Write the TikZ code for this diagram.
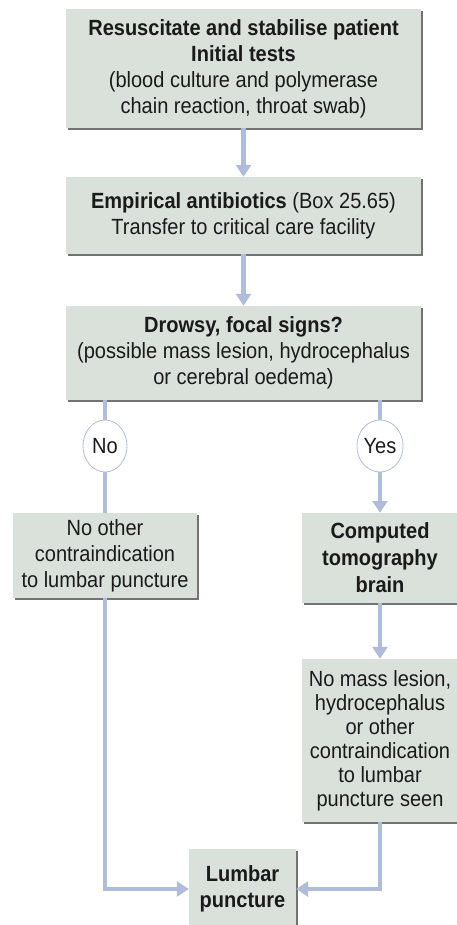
\documentclass[tikz,border=0pt]{standalone}
\usepackage{fontspec}
\setmainfont{Liberation Sans}[FakeStretch=0.91]
\usetikzlibrary{arrows.meta,shapes.geometric,shadows}
\definecolor{boxfill}{HTML}{D9E1DA}
\definecolor{flowline}{HTML}{AFBCDC}
\definecolor{inktext}{HTML}{1A1A1A}

\tikzset{
  stepbox/.style={rectangle, fill=boxfill, align=center, inner sep=0pt, text=inktext,
    drop shadow={shadow xshift=1.6pt, shadow yshift=-1.8pt, fill=black!55, opacity=1}},
  answer/.style={ellipse, draw=flowline, fill=white, line width=0.8pt,
    minimum width=44pt, minimum height=52pt, inner sep=0pt, text=inktext},
  flow/.style={draw=flowline, line width=4.5pt},
  flowarrow/.style={flow, -{Triangle[width=15pt,length=12pt]}}
}

\begin{document}
\begin{tikzpicture}[x=1pt, y=-1pt, every node/.style={font=\fontsize{22}{26}\selectfont}]
    \useasboundingbox (0,0) rectangle (457,925);
    % boxes
    \node[stepbox, minimum width=355pt, minimum height=119pt] (start) at (243.5,68.5)
        {\textbf{Resuscitate and stabilise patient}\\ \textbf{Initial tests}\\
         (blood culture and polymerase\\ chain reaction, throat swab)};
    \node[stepbox, minimum width=355pt, minimum height=77pt] (abx) at (243.5,215.5)
        {\textbf{Empirical antibiotics} (Box 25.65)\\ Transfer to critical care facility};
    \node[stepbox, minimum width=355pt, minimum height=94pt] (drowsy) at (243.5,353)
        {\textbf{Drowsy, focal signs?}\\ (possible mass lesion, hydrocephalus\\ or cerebral oedema)};
    \node[answer] (no) at (105,446) {No};
    \node[answer] (yes) at (380,446) {Yes};
    \node[stepbox, minimum width=184pt, minimum height=85pt] (noother) at (105,555.5)
        {No other\\ contraindication\\ to lumbar puncture};
    \node[stepbox, minimum width=156pt, minimum height=90pt, font=\fontsize{22}{27}\selectfont] (ct) at (380,558)
        {\textbf{Computed}\\ \textbf{tomography}\\ \textbf{brain}};
    \node[stepbox, minimum width=156pt, minimum height=163pt, font=\fontsize{22}{24}\selectfont] (nomass) at (380,740.5)
        {No mass lesion,\\ hydrocephalus\\ or other\\ contraindication\\ to lumbar\\ puncture seen};
    \node[stepbox, minimum width=107pt, minimum height=80pt] (lumbar) at (242.5,889)
        {\textbf{Lumbar}\\ \textbf{puncture}};
    % connectors
    \draw[flowarrow] (start) -- (abx);
    \draw[flowarrow] (abx) -- (drowsy);
    \draw[flow] (drowsy.south -| no) -- (no);
    \draw[flow] (no) -- (noother);
    \draw[flow] (drowsy.south -| yes) -- (yes);
    \draw[flowarrow] (yes) -- (ct);
    \draw[flowarrow] (ct) -- (nomass);
    \draw[flowarrow] (noother) |- (lumbar);
    \draw[flowarrow] (nomass) |- (lumbar);
\end{tikzpicture}
\end{document}
